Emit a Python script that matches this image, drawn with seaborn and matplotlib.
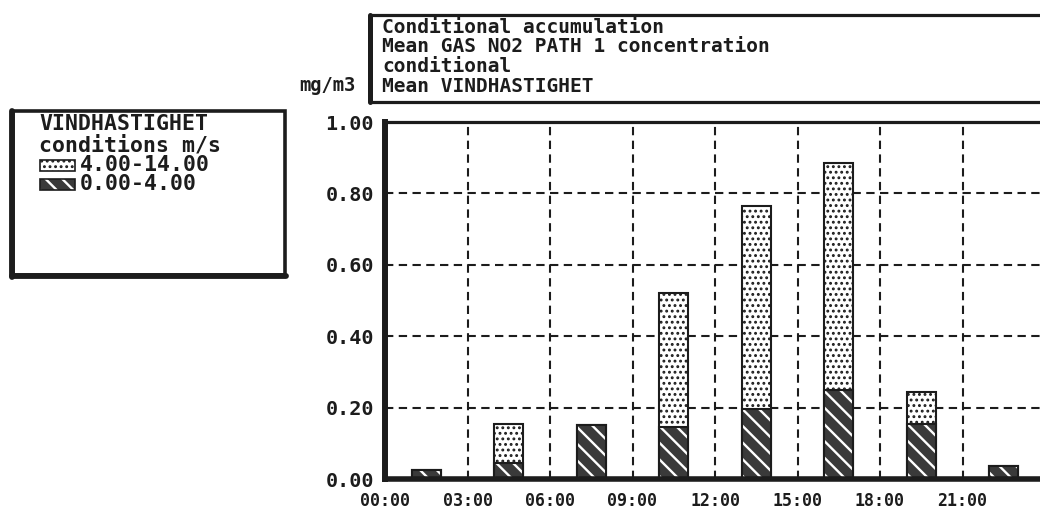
import matplotlib
matplotlib.use("Agg")
import matplotlib.pyplot as plt
import pandas as pd
import seaborn as sns
from matplotlib.patches import Rectangle
from matplotlib.lines import Line2D

# Three-hour bins (bin centres, hours of day)
hours = [1.5, 4.5, 7.5, 10.5, 13.5, 16.5, 19.5, 22.5]
# Mean NO2 concentration (mg/m3) accumulated per wind-speed class
wind_low = [0.025, 0.045, 0.15, 0.145, 0.195, 0.25, 0.155, 0.037]   # 0.00-4.00 m/s
wind_high = [0.0, 0.11, 0.0, 0.375, 0.57, 0.635, 0.09, 0.0]        # 4.00-14.00 m/s
class_labels = ["4.00-14.00", "0.00-4.00"]
time_ticks = [0, 3, 6, 9, 12, 15, 18, 21]
time_labels = ["00:00", "03:00", "06:00", "09:00", "12:00", "15:00", "18:00", "21:00"]
y_ticks = [0.0, 0.2, 0.4, 0.6, 0.8, 1.0]
title_lines = ["Conditional accumulation",
               "Mean GAS NO2 PATH 1 concentration",
               "conditional",
               "Mean VINDHASTIGHET"]
legend_title = ["VINDHASTIGHET", "conditions m/s"]
unit_label = "mg/m3"

df = pd.DataFrame({"hour": hours, "low": wind_low, "high": wind_high})
df["total"] = df["low"] + df["high"]

sns.set_theme(style="white")
plt.rcParams["font.family"] = ["DejaVu Sans Mono", "DejaVu Sans"]
plt.rcParams["font.weight"] = "bold"

INK = "#1c1c1c"
DARK = "#3a3a3a"
W, H = 1040, 511

fig = plt.figure(figsize=(W / 100, H / 100), dpi=100)
fig.patch.set_facecolor("white")


def fx(x):
    return x / W


def fy(y):
    return 1 - y / H


def set_hatch_lw(patches, lw):
    for p in patches:
        if hasattr(p, "set_hatch_linewidth"):
            p.set_hatch_linewidth(lw)


# main plotting area (extends slightly past the right edge of the sheet)
ax = fig.add_axes([fx(385), fy(479), (1045 - 385) / W, (479 - 122) / H])

dots_style = dict(color="white", edgecolor=INK, linewidth=1.5, hatch="...")
stripe_style = dict(color=DARK, edgecolor="white", linewidth=0, hatch="\\\\")
DOT_LW, STRIPE_LW = 1.3, 1.7

with plt.rc_context({"hatch.linewidth": DOT_LW}):
    n0 = len(ax.patches)
    sns.barplot(data=df, x="hour", y="total", native_scale=True, width=0.35,
                errorbar=None, saturation=1, ax=ax, **dots_style)
    set_hatch_lw(ax.patches[n0:], DOT_LW)
with plt.rc_context({"hatch.linewidth": STRIPE_LW}):
    n0 = len(ax.patches)
    sns.barplot(data=df, x="hour", y="low", native_scale=True, width=0.35,
                errorbar=None, saturation=1, ax=ax, **stripe_style)
    set_hatch_lw(ax.patches[n0:], STRIPE_LW)
sns.barplot(data=df, x="hour", y="low", native_scale=True, width=0.35,
            errorbar=None, fill=False, color=INK, linewidth=1.5, ax=ax)

ax.set_xlim(0, 24)
ax.set_ylim(0, 1.0)
ax.set_xlabel("")
ax.set_ylabel("")
ax.set_xticks(time_ticks)
ax.set_xticklabels(time_labels, fontsize=12, color=INK)
ax.set_yticks(y_ticks)
ax.set_yticklabels([f"{v:.2f}" for v in y_ticks], fontsize=14.5, color=INK)
ax.tick_params(axis="both", length=0)
ax.tick_params(axis="x", pad=9)
ax.tick_params(axis="y", pad=8)

ax.set_axisbelow(True)
ax.grid(True, color=INK, linewidth=1.5, linestyle=(0, (4, 2.6)))

ax.spines["left"].set_linewidth(4.3)
ax.spines["bottom"].set_linewidth(4.0)
ax.spines["top"].set_linewidth(2.3)
for s in ("left", "bottom", "top", "right"):
    ax.spines[s].set_color(INK)

# heading box
fig.add_artist(Rectangle((fx(370), fy(102)), fx(1070) - fx(370), fy(15) - fy(102),
                         transform=fig.transFigure, facecolor="white",
                         edgecolor=INK, linewidth=2.3))
fig.add_artist(Line2D([fx(370), fx(370)], [fy(102), fy(15)],
                      transform=fig.transFigure, color=INK, linewidth=3.6))
for i, line in enumerate(title_lines):
    fig.text(fx(382), fy(33 + 19.5 * i), line, fontsize=14, color=INK,
             ha="left", va="baseline")
fig.text(fx(356), fy(91), unit_label, fontsize=13.5, color=INK,
         ha="right", va="baseline")

# legend box
fig.add_artist(Rectangle((fx(13), fy(275)), fx(285) - fx(13), fy(111) - fy(275),
                         transform=fig.transFigure, facecolor="white",
                         edgecolor=INK, linewidth=2.6))
fig.add_artist(Line2D([fx(12), fx(12)], [fy(277), fy(111)],
                      transform=fig.transFigure, color=INK, linewidth=4.2))
fig.add_artist(Line2D([fx(12), fx(286)], [fy(276), fy(276)],
                      transform=fig.transFigure, color=INK, linewidth=4.2))
for i, line in enumerate(legend_title):
    fig.text(fx(39), fy(130 + 21 * i), line, fontsize=15.5, color=INK,
             ha="left", va="baseline")

swatch_styles = [(dots_style, DOT_LW), (stripe_style, STRIPE_LW)]
for i, (lab, (st, hlw)) in enumerate(zip(class_labels, swatch_styles)):
    top = 160 + 19 * i
    with plt.rc_context({"hatch.linewidth": hlw}):
        sw = Rectangle((fx(40), fy(top + 11)), fx(35), 11 / H,
                       transform=fig.transFigure,
                       facecolor=st["color"], edgecolor=st["edgecolor"],
                       linewidth=0, hatch=st["hatch"])
        set_hatch_lw([sw], hlw)
    fig.add_artist(sw)
    fig.add_artist(Rectangle((fx(40), fy(top + 11)), fx(35), 11 / H,
                             transform=fig.transFigure, facecolor="none",
                             edgecolor=INK, linewidth=1.2))
    fig.text(fx(80), fy(top + 11), lab, fontsize=15.5, color=INK,
             ha="left", va="baseline")

fig.savefig("out.png", dpi=100, facecolor="white")
